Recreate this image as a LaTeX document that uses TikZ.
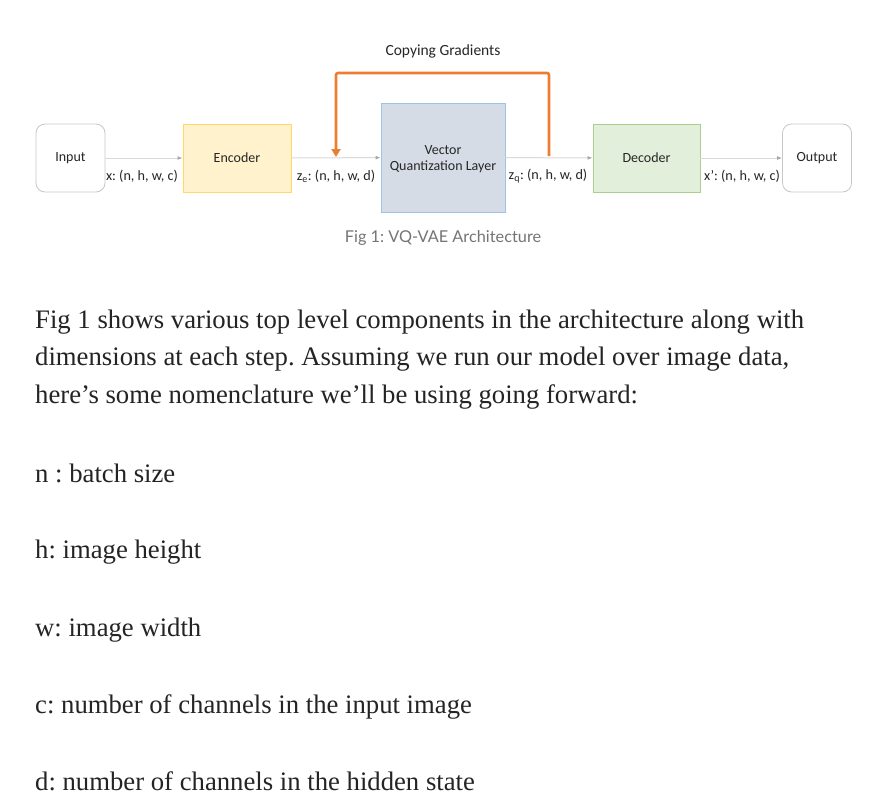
\documentclass[tikz,border=0pt]{standalone}
\usepackage{fontspec}
\setmainfont{Liberation Serif}
\newfontfamily\diafont{Carlito}
\newfontfamily\capfont{Lato}
\usetikzlibrary{arrows.meta}
\definecolor{encfill}{HTML}{FFF2CC}
\definecolor{encdraw}{HTML}{FFD966}
\definecolor{vqfill}{HTML}{D6DCE5}
\definecolor{vqdraw}{HTML}{9DC3E6}
\definecolor{decfill}{HTML}{E2EFDA}
\definecolor{decdraw}{HTML}{A9D18E}
\definecolor{flowgray}{HTML}{D9D9D9}
\definecolor{tipgray}{HTML}{A6A6A6}
\definecolor{gradorange}{HTML}{ED7D31}
\definecolor{diatext}{HTML}{262626}
\definecolor{captext}{HTML}{757575}
\definecolor{bodytext}{HTML}{242424}
\frenchspacing
\tikzset{
  termbox/.style={draw=black!22, line width=0.8pt, rounded corners=9pt, fill=white,
    minimum width=69pt, minimum height=68pt, font=\diafont\fontsize{14}{16}\selectfont, text=diatext},
  stagebox/.style={line width=0.9pt, minimum height=68pt,
    font=\diafont\fontsize{14}{16}\selectfont, text=diatext, align=center},
  flow/.style={draw=flowgray, line width=1pt, -{Latex[length=5pt,width=4pt,color=tipgray]}},
  grad/.style={draw=gradorange, line width=2.6pt, rounded corners=2pt,
    -{Triangle[length=8pt,width=9pt]}},
  dimlabel/.style={font=\diafont\fontsize{14.2}{16}\selectfont, text=diatext, inner sep=0pt},
  bodyline/.style={anchor=base west, inner sep=0pt, text=bodytext, font=\fontsize{26.7}{30}\selectfont}
}
\begin{document}
\begin{tikzpicture}[x=1pt,y=-1pt]
\useasboundingbox[fill=white] (0,0) rectangle (896,809);

% blocks
\node[termbox] (in) at (70.5,158) {Input};
\node[stagebox, fill=encfill, draw=encdraw, minimum width=108pt] (enc) at (237,158) {Encoder};
\node[stagebox, fill=vqfill, draw=vqdraw, minimum width=124pt, minimum height=109pt] (vq) at (443,157.5) {};
\node[font=\diafont\fontsize{14}{16}\selectfont, text=diatext, inner sep=0pt] (vqa) at (443,150) {Vector};
\node[font=\diafont\fontsize{14}{16}\selectfont, text=diatext, inner sep=0pt] (vqb) at (443,167) {Quantization Layer};
\node[stagebox, fill=decfill, draw=decdraw, minimum width=107pt] (dec) at (646.5,158) {Decoder};
\node[termbox] (out) at (817,158) {Output};

% forward flow
\draw[flow] (in) -- (enc);
\draw[flow] (enc) -- (vq);
\draw[flow] (vq) -- (dec);
\draw[flow] (dec) -- (out);

% dimension labels
\node[dimlabel] (lx) at (142,176) {x: (n, h, w, c)};
\node[dimlabel] (lze) at (336,176) {z\textsubscript{e}: (n, h, w, d)};
\node[dimlabel] (lzq) at (548,176) {z\textsubscript{q}: (n, h, w, d)};
\node[dimlabel] (lxp) at (742,176) {x’: (n, h, w, c)};

% copying gradients
\coordinate (zqpt) at (549,156);
\coordinate (zept) at (336,157);
\draw[grad] (zqpt) -- (549,73) -| (zept);
\node[font=\diafont\fontsize{15.5}{18}\selectfont, text=diatext] (cg) at (443,51) {Copying Gradients};

% caption
\node[font=\capfont\fontsize{16.3}{19}\selectfont, text=captext] (cap) at (443,238) {Fig 1: VQ-VAE Architecture};

% body text
\node[bodyline] (p1) at (35,328) {Fig 1 shows various top level components in the architecture along with};
\node[bodyline] (p2) at (35,365.5) {dimensions at each step. Assuming we run our model over image data,};
\node[bodyline] (p3) at (35,403) {here’s some nomenclature we’ll be using going forward:};
\node[bodyline] (n1) at (35,482) {n : batch size};
\node[bodyline] (n2) at (35,558) {h: image height};
\node[bodyline] (n3) at (35,636) {w: image width};
\node[bodyline] (n4) at (35,713) {c: number of channels in the input image};
\node[bodyline] (n5) at (35,790) {d: number of channels in the hidden state};
\end{tikzpicture}
\end{document}
